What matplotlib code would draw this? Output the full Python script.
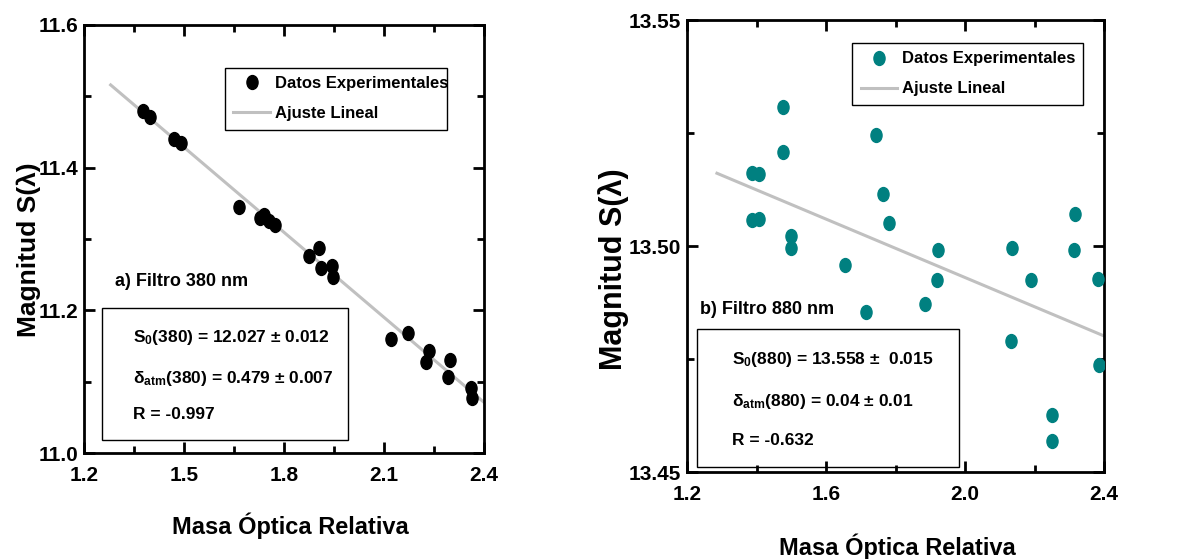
import numpy as np
import matplotlib
import matplotlib.pyplot as plt
from matplotlib.patches import Rectangle
from matplotlib.path import Path
from matplotlib.transforms import Affine2D

########################################
#   Data
########################################

# a) Filtro 380 nm
masa380 = [1.377, 1.398, 1.470, 1.491, 1.665, 1.728, 1.740, 1.755, 1.773, 1.875, 1.905,
           1.911, 1.944, 1.947, 2.121, 2.172, 2.235, 2.226, 2.298, 2.292, 2.361, 2.364]
mag380 = [11.479, 11.471, 11.440, 11.435, 11.345, 11.329, 11.334, 11.325, 11.320, 11.276, 11.287,
          11.259, 11.262, 11.247, 11.160, 11.168, 11.143, 11.128, 11.130, 11.107, 11.091, 11.077]
ajusteX380 = [1.28, 2.40]
ajusteY380 = [11.516, 11.071]

# b) Filtro 880 nm
masa880 = [1.476, 1.476, 1.387, 1.407, 1.387, 1.407, 1.499, 1.499, 1.744, 1.764, 1.781, 1.655,
           1.922, 1.919, 2.135, 2.190, 2.317, 2.314, 2.383, 1.715, 1.885, 2.132, 2.386, 2.250, 2.250]
mag880 = [13.5307, 13.5208, 13.5161, 13.5159, 13.5058, 13.5060, 13.5022, 13.4996, 13.5246, 13.5115,
          13.5051, 13.4958, 13.4991, 13.4925, 13.4996, 13.4925, 13.5071, 13.4991, 13.4927, 13.4854,
          13.4872, 13.4790, 13.4737, 13.4626, 13.4569]
ajusteX880 = [1.286, 2.40]
ajusteY880 = [13.5161, 13.4801]

xTicks380 = [1.2, 1.5, 1.8, 2.1, 2.4]
yTicks380 = [11.0, 11.2, 11.4, 11.6]
xTicks880 = [1.2, 1.6, 2.0, 2.4]
yTicks880 = [13.45, 13.50, 13.55]

textos380 = ["S$_\\mathbf{0}$(380) = 12.027 ± 0.012",
             "δ$_\\mathbf{atm}$(380) = 0.479 ± 0.007",
             "R = -0.997"]
textos880 = ["S$_\\mathbf{0}$(880) = 13.558 ±  0.015",
             "δ$_\\mathbf{atm}$(880) = 0.04 ± 0.01",
             "R = -0.632"]

########################################
#   Style
########################################

fuente = ['Liberation Sans', 'DejaVu Sans']
plt.rcParams['font.family'] = fuente
plt.rcParams['font.weight'] = 'bold'
plt.rcParams['mathtext.fontset'] = 'custom'
plt.rcParams['mathtext.rm'] = 'Liberation Sans:bold'
plt.rcParams['mathtext.bf'] = 'Liberation Sans:bold'
plt.rcParams['mathtext.it'] = 'Liberation Sans:bold'

# elliptic marker (points are a bit taller than wide)
elipse = Path.unit_circle().transformed(Affine2D().scale(0.8, 1.0))

gris = "#c0c0c0"
verde = "#008080"

fig = plt.figure(figsize=(11.98, 5.59), dpi=100)


def panel(pos, x, y, fx, fy, color, xt, yt, xlim, ylim, xminor, yminor, fmt,
          legBox, etiqueta, etqPos, caja, textos, textoX, textoY,
          ylabPos, ylabSize, xlabPos):
    ax = fig.add_axes(pos)
    ax.plot(x, y, linestyle="None", marker=elipse, markersize=10, color=color,
            label="Datos Experimentales", zorder=3)
    ax.plot(fx, fy, color=gris, linewidth=2.2, label="Ajuste Lineal", zorder=2)
    ax.set_xlim(*xlim)
    ax.set_ylim(*ylim)
    ax.set_xticks(xt)
    ax.set_yticks(yt)
    ax.set_xticks(xminor, minor=True)
    ax.set_yticks(yminor, minor=True)
    ax.set_xticklabels(["%.1f" % v for v in xt])
    ax.set_yticklabels([fmt % v for v in yt])
    ax.tick_params(which='both', direction='in', top=True, right=True, width=2)
    ax.tick_params(which='major', length=8, labelsize=15)
    ax.tick_params(which='minor', length=5)
    ax.tick_params(axis='x', pad=9)
    ax.tick_params(axis='y', pad=4)
    for s in ax.spines.values():
        s.set_linewidth(2)
    for lab in ax.get_xticklabels() + ax.get_yticklabels():
        lab.set_fontweight('bold')

    ax.set_ylabel("Magnitud S(λ)", fontsize=ylabSize, fontweight='bold')
    ax.yaxis.set_label_coords(*ylabPos)
    ax.set_xlabel("Masa Óptica Relativa", fontsize=17, fontweight='bold')
    ax.xaxis.set_label_coords(*xlabPos)

    leg = ax.legend(loc='upper left', bbox_to_anchor=legBox, mode='expand',
                    borderaxespad=0, fancybox=False, framealpha=1, edgecolor='black',
                    prop={'size': 12, 'weight': 'bold'}, handlelength=2.2,
                    handletextpad=0.3, borderpad=0.5, labelspacing=0.9)
    leg.get_frame().set_linewidth(1)

    ax.text(etqPos[0], etqPos[1], etiqueta, transform=ax.transAxes,
            fontsize=13, fontweight='bold', va='center')
    ax.add_patch(Rectangle((caja[0], caja[1]), caja[2], caja[3], transform=ax.transAxes,
                           fill=False, edgecolor='black', linewidth=1, zorder=4))
    for t, ty in zip(textos, textoY):
        ax.text(textoX, ty, t, transform=ax.transAxes, fontsize=12.5,
                fontweight='bold', va='center')
    return ax


panel([0.0701, 0.1896, 0.3339, 0.7657], masa380, mag380, ajusteX380, ajusteY380, "black",
      xTicks380, yTicks380, (1.2, 2.4), (11.0, 11.6), [1.35, 1.65, 1.95, 2.25],
      [11.1, 11.3, 11.5], "%.1f",
      (0.3525, 0.7547, 0.555, 0.145), "a) Filtro 380 nm", (0.0775, 0.40),
      (0.045, 0.030, 0.615, 0.309), textos380, 0.1225, [0.271, 0.175, 0.089],
      (-0.1075, 0.474), 19, (0.515, -0.140))

panel([0.5735, 0.1556, 0.3481, 0.8086], masa880, mag880, ajusteX880, ajusteY880, verde,
      xTicks880, yTicks880, (1.2, 2.4), (13.45, 13.55), [1.4, 1.8, 2.2],
      [13.475, 13.525], "%.2f",
      (0.396, 0.801, 0.554, 0.148), "b) Filtro 880 nm", (0.031, 0.36),
      (0.024, 0.011, 0.628, 0.305), textos880, 0.108, [0.25, 0.157, 0.069],
      (-0.139, 0.449), 22, (0.504, -0.135))

plt.savefig("out.png", dpi=100)
